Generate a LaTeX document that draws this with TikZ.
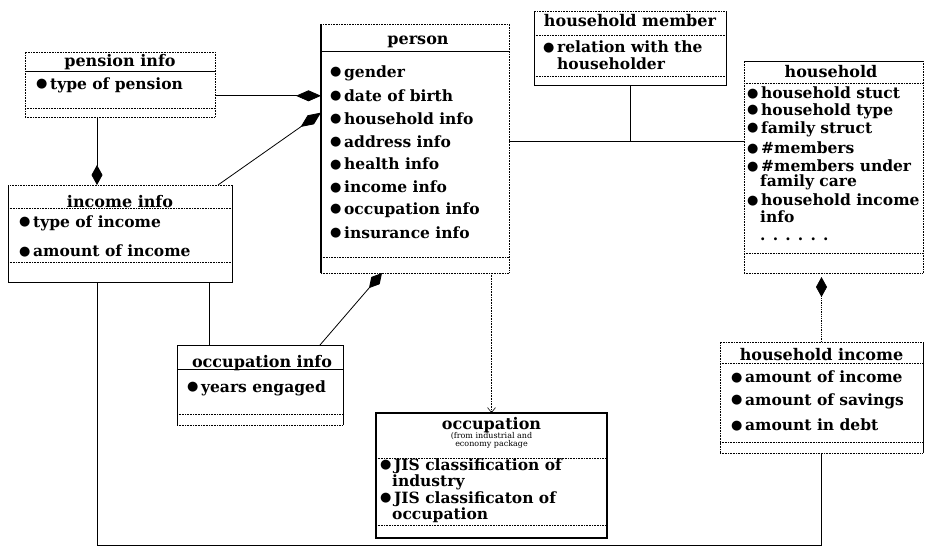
\documentclass[tikz,border=0pt]{standalone}
\usepackage{fontspec}
\setmainfont{DejaVu Serif}
\newfontfamily\symf{DejaVu Sans}
\usetikzlibrary{arrows.meta,calc,positioning}
% bullet in front of every attribute
\newcommand{\bul}{\raisebox{0.2ex}{\symf\fontsize{13}{13}\selectfont ●}\,}
% horizontal rule across a class box, #3 pt below its top
\newcommand{\rul}[3]{\draw[#1] ([yshift=-#3pt]#2.north west) -- ([yshift=-#3pt]#2.north east);}

\begin{document}
\begin{tikzpicture}[x=1pt,y=-1pt]
  \tikzset{
    cls/.style  = {draw, densely dotted, line width=0.6pt, inner sep=0pt, outer sep=0pt},
    edge/.style = {line width=1pt},
    ttl/.style  = {font=\fontsize{16}{16}\selectfont\bfseries, inner sep=0pt},
    itm/.style  = {font=\fontsize{15.5}{15.5}\selectfont\bfseries, anchor=west, inner sep=0pt},
    sml/.style  = {font=\fontsize{8}{8}\selectfont, inner sep=0pt},
    dsep/.style = {densely dotted, line width=0.6pt},
    ssep/.style = {line width=1pt},
    comp/.style = {line width=0.8pt, -{Diamond[length=#1,width=11pt]}},
    comp/.default = 20pt
  }
  \useasboundingbox (0,0) rectangle (926,552);

  % ========= pension info =========
  \node[cls, minimum width=190pt, minimum height=65pt] (pension) at (120,84.5) {};
  \node[ttl] (pension-t) at (120,62) {pension info};
  \node[itm] (pension-1) at (36,85) {\bul type of pension};
  \rul{ssep}{pension}{19}
  \rul{dsep}{pension}{56}

  % ========= income info =========
  \node[cls, minimum width=224pt, minimum height=97pt] (income) at (120,233.5) {};
  \draw[edge] (income.north west) -- (income.south west) -- (income.south east) -- (income.north east);
  \node[ttl] (income-t) at (120,202) {income info};
  \node[itm] (income-1) at (19,223) {\bul type of income};
  \node[itm] (income-2) at (19,251) {\bul amount of income};
  \rul{dsep}{income}{23}
  \rul{dsep}{income}{77}

  % ========= person =========
  \node[cls, minimum width=188pt, minimum height=249pt] (person) at (415,148.5) {};
  \draw[line width=1.5pt] (person.north west) -- (person.south west);
  \node[ttl] (person-t) at (418,42) {person};
  \foreach \t [count=\i] in {gender, date of birth, household info, address info,
                             health info, income info, occupation info, insurance info}
    \node[itm] (per-\i) at (330,{50.2+22.8*\i}) {\bul\t};
  \rul{ssep}{person}{27}
  \rul{dsep}{person}{233}

  % ========= household member =========
  \node[cls, minimum width=192pt, minimum height=74pt] (hmember) at (630,48) {};
  \draw[edge] (hmember.north west) -- (hmember.south west) -- (hmember.south east) -- (hmember.north east);
  \node[ttl] (hmember-t) at (630,21) {household member};
  \node[itm] (hmember-1) at (543,47) {\bul relation with the};
  \node[itm] (hmember-2) at (557,63.5) {householder};
  \rul{dsep}{hmember}{24}
  \rul{dsep}{hmember}{65}

  % ========= household =========
  \node[cls, minimum width=179pt, minimum height=212pt] (household) at (833.5,167) {};
  \draw[edge] (household.north west) -- (household.north east);
  \node[ttl] (household-t) at (831,72) {household};
  \node[itm] (hh-1) at (747,93)  {\bul household stuct};
  \node[itm] (hh-2) at (747,111) {\bul household type};
  \node[itm] (hh-3) at (747,129) {\bul family struct};
  \node[itm] (hh-4) at (747,148) {\bul\#members};
  \node[itm] (hh-5) at (747,166) {\bul\#members under};
  \node[itm] (hh-6) at (760,182.5) {family care};
  \node[itm] (hh-7) at (747,200) {\bul household income};
  \node[itm] (hh-8) at (760,216.5) {info};
  \node[itm] (hh-9) at (760,239) {. . . . . .};
  \rul{dsep}{household}{22}
  \rul{dsep}{household}{192}

  % ========= household income =========
  \node[cls, minimum width=203pt, minimum height=111pt] (hincome) at (821.5,397.5) {};
  \draw[edge] (hincome.north east) -- (hincome.south east);
  \node[ttl] (hincome-t) at (821.5,355) {household income};
  \node[itm] (hi-1) at (731,377) {\bul amount of income};
  \node[itm] (hi-2) at (731,401) {\bul amount of savings};
  \node[itm] (hi-3) at (731,425) {\bul amount in debt};
  \rul{dsep}{hincome}{21}
  \rul{dsep}{hincome}{100}

  % ========= occupation info =========
  \node[cls, minimum width=166pt, minimum height=80pt] (occinfo) at (260,385) {};
  \draw[edge] (occinfo.south west) -- (occinfo.north west) -- (occinfo.north east) -- (occinfo.south east);
  \node[ttl] (occinfo-t) at (262,363) {occupation info};
  \node[itm] (oi-1) at (187,388) {\bul years engaged};
  \rul{ssep}{occinfo}{24}
  \rul{dsep}{occinfo}{69}

  % ========= occupation (other package) =========
  \node[cls, solid, line width=2.5pt, minimum width=231pt, minimum height=125pt] (occ) at (491.5,475.5) {};
  \node[ttl] (occ-t) at (491.5,425) {occupation};
  \node[sml] (occ-s1) at (491.5,436) {(from industrial and};
  \node[sml] (occ-s2) at (491.5,444) {economy package};
  \node[itm] (oc-1) at (380,466) {\bul JIS classification of};
  \node[itm] (oc-2) at (392,482.5) {industry};
  \node[itm] (oc-3) at (380,499) {\bul JIS classificaton of};
  \node[itm] (oc-4) at (392,515.5) {occupation};
  \rul{dsep}{occ}{45}
  \rul{dsep}{occ}{112}

  % ========= connectors =========
  \draw[comp=25pt] (pension.east |- per-2) -- (person.west |- per-2);
  \draw[comp=25pt] ([xshift=-14pt]income.north east) -- ($(person.west |- per-3)+(0,-6)$);
  \draw[comp] ([xshift=-23pt]pension.south) -- ([xshift=-23pt]income.north);
  \draw[line width=0.8pt] ([xshift=89pt]income.south) -- ([xshift=-51pt]occinfo.north);
  \draw[comp] ([xshift=-23pt]occinfo.north east) -- ([xshift=-33pt]person.south);
  \draw[densely dotted, line width=0.6pt, -{Straight Barb[length=5pt,width=8pt]}]
    (person.south -| occ.north) -- (occ.north);
  % person -- household, with the household member link
  \coordinate (hh-j) at (hmember.south |- per-4);
  \draw[line width=0.8pt] (person.east |- hh-j) -- (household.west |- hh-j);
  \draw[line width=0.8pt] (hmember.south) -- (hh-j);
  \draw[comp, densely dotted] (hincome.north) -- ([yshift=-4pt]household.south -| hincome.north);
  % bottom line back to income info
  \draw[line width=0.8pt] (hincome.south) -- ++(0,92) -| ([xshift=-23pt]income.south);
\end{tikzpicture}
\end{document}
